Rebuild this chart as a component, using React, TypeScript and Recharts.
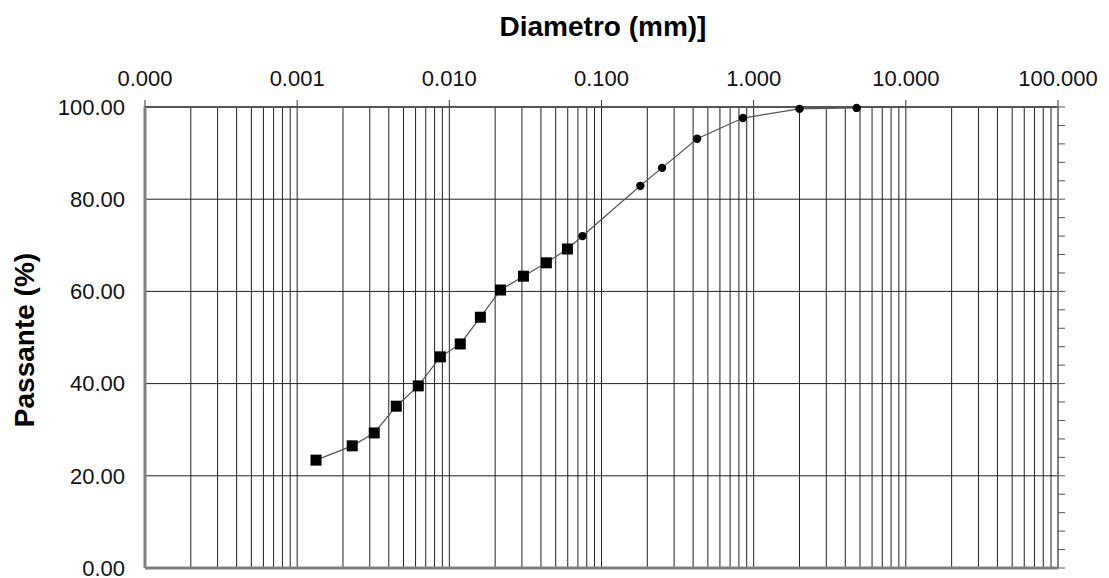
import React from 'react';
import {
  ComposedChart,
  Line,
  XAxis,
  YAxis,
  CartesianGrid,
  ReferenceLine,
} from 'recharts';

// diametro (mm) e passante (%)
const diameters = [
  0.00133, 0.0023, 0.00321, 0.00448, 0.00625, 0.00873, 0.0118, 0.016, 0.0217,
  0.0307, 0.0434, 0.0597, 0.075, 0.18, 0.25, 0.425, 0.85, 2.0, 4.75,
];
const passing = [
  23.4, 26.5, 29.3, 35.1, 39.5, 45.8, 48.6, 54.4, 60.3, 63.3, 66.2, 69.2, 72.0,
  82.9, 86.8, 93.1, 97.6, 99.6, 99.8,
];
// primi 12 punti da sedimentazione (quadrati), poi setacci (cerchi)
const sedimentCount = 12;

const xTicks = [0.0001, 0.001, 0.01, 0.1, 1, 10, 100];
const minorSteps = [2, 3, 4, 5, 6, 7, 8, 9];
const yTicks = [0, 20, 40, 60, 80, 100];
const yMinorTicks = [
  0, 4, 8, 12, 16, 20, 24, 28, 32, 36, 40, 44, 48, 52, 56, 60, 64, 68, 72, 76,
  80, 84, 88, 92, 96, 100,
];

const data = diameters.map((d, i) => ({ d, p: passing[i], i }));
const minorGrid = xTicks.slice(0, -1).flatMap((dec) => minorSteps.map((m) => m * dec));

const FONT = '"Liberation Sans", Arial, sans-serif';

const PointDot = (props: { cx?: number; cy?: number; payload?: { i: number } }) => {
  const { cx, cy, payload } = props;
  if (cx == null || cy == null || !payload) return null;
  if (payload.i < sedimentCount) {
    return <rect x={cx - 5.5} y={cy - 5.5} width={11} height={11} fill="#000" />;
  }
  return <circle cx={cx} cy={cy} r={4.2} fill="#000" />;
};

export default function App() {
  return (
    <div style={{ position: 'relative', width: 1100, height: 570, fontFamily: FONT }}>
      <div
        style={{
          position: 'absolute',
          left: 395,
          top: 5,
          width: 400,
          textAlign: 'center',
          fontSize: 28,
          lineHeight: '28px',
          fontWeight: 'bold',
          color: '#000',
        }}
      >
        Diametro (mm)]
      </div>
      <div
        style={{
          position: 'absolute',
          left: 17 - 150,
          top: 332 - 14,
          width: 300,
          textAlign: 'center',
          fontSize: 28,
          lineHeight: '28px',
          fontWeight: 'bold',
          color: '#000',
          transform: 'rotate(-90deg)',
        }}
      >
        Passante (%)
      </div>
      <ComposedChart
        width={1100}
        height={570}
        data={data}
        margin={{ top: 59, right: 30, left: 57, bottom: 10 }}
        style={{ overflow: 'visible' }}
      >
        <CartesianGrid yAxisId="left" stroke="#222" strokeWidth={1} vertical={false} />
        {minorGrid.concat(xTicks.slice(1, -1)).map((v) => (
          <ReferenceLine key={v} x={v} yAxisId="left" stroke="#222" strokeWidth={1} />
        ))}
        <XAxis
          dataKey="d"
          type="number"
          scale="log"
          orientation="top"
          domain={[0.0001, 100]}
          ticks={xTicks}
          interval={0}
          allowDataOverflow
          height={40}
          tickFormatter={(v: number) => v.toFixed(3)}
          tick={{ fontSize: 22, fill: '#111', fontFamily: FONT }}
          tickSize={7}
          tickMargin={14}
          axisLine={{ stroke: '#555', strokeWidth: 2 }}
          tickLine={{ stroke: '#333' }}
        />
        <YAxis
          yAxisId="left"
          domain={[0, 100]}
          ticks={yTicks}
          interval={0}
          width={80}
          tickFormatter={(v: number) => v.toFixed(2)}
          tick={{ fontSize: 22, fill: '#111', fontFamily: FONT }}
          tickLine={false}
          tickSize={10}
          tickMargin={10}
          axisLine={{ stroke: '#808080', strokeWidth: 3 }}
        />
        <YAxis
          yAxisId="right"
          orientation="right"
          type="number"
          domain={[0, 100]}
          allowDataOverflow
          ticks={yMinorTicks}
          interval={0}
          width={20}
          tickFormatter={() => ''}
          tick={{ fontSize: 1 }}
          tickSize={7}
          tickLine={{ stroke: '#555' }}
          axisLine={{ stroke: '#808080', strokeWidth: 2 }}
        />
        <ReferenceLine y={0} yAxisId="left" stroke="#808080" strokeWidth={3} />
        {/* serie invisibile per dare dati all'asse destro */}
        <Line
          yAxisId="right"
          dataKey="p"
          stroke="none"
          dot={false}
          activeDot={false}
          isAnimationActive={false}
        />
        <Line
          yAxisId="left"
          dataKey="p"
          type="linear"
          stroke="#555"
          strokeWidth={1.2}
          dot={<PointDot />}
          activeDot={false}
          isAnimationActive={false}
        />
      </ComposedChart>
    </div>
  );
}
